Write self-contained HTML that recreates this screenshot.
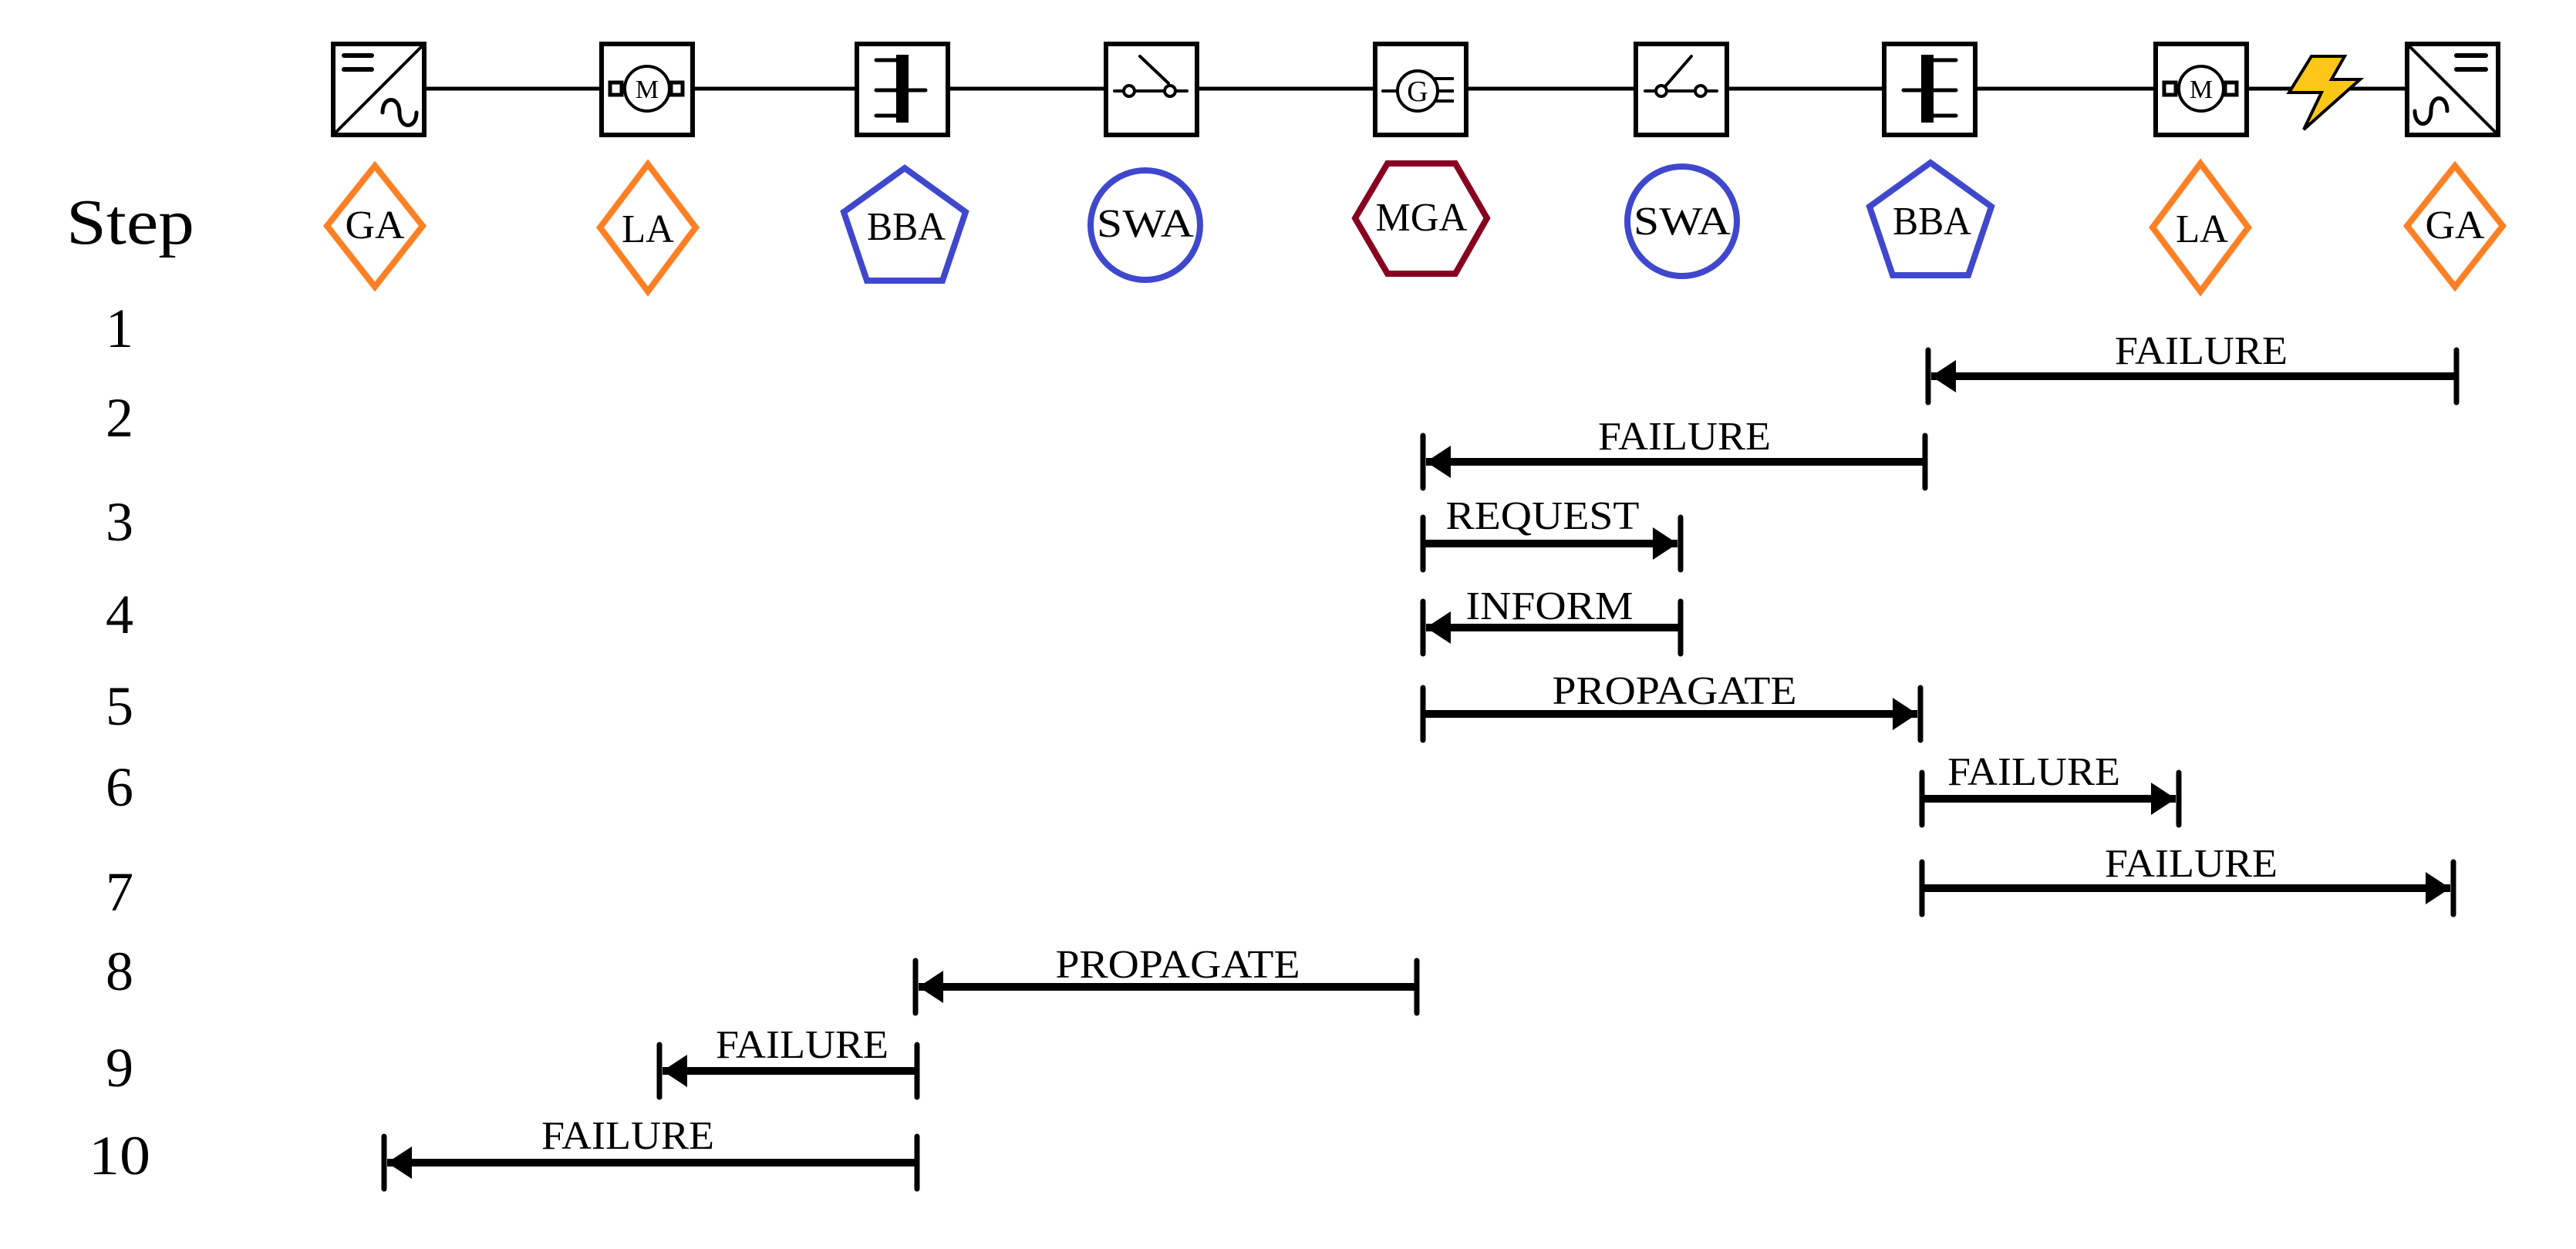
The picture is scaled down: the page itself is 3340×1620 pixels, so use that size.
<!DOCTYPE html>
<html><head><meta charset="utf-8"><style>
html,body{margin:0;padding:0;background:#fff;}
svg{display:block;}
text{font-family:"Liberation Serif",serif;fill:#000;}
</style></head><body>
<svg width="3340" height="1620" viewBox="0 0 3340 1620" xmlns="http://www.w3.org/2000/svg">
<defs>
<marker id="ah" viewBox="0 0 10 10" refX="10" refY="5" markerWidth="3.2" markerHeight="4.2" orient="auto-start-reverse" markerUnits="strokeWidth" preserveAspectRatio="none"><path d="M0,0 L10,5 L0,10 z" fill="#000"/></marker>
</defs>
<line x1="490" y1="115" x2="3180" y2="115" stroke="#000" stroke-width="5"/>
<g fill="#fff" stroke="#000" stroke-width="6">
<rect x="432" y="57" width="118" height="118"/>
<rect x="780" y="57" width="118" height="118"/>
<rect x="1111" y="57" width="118" height="118"/>
<rect x="1434" y="57" width="118" height="118"/>
<rect x="1783" y="57" width="118" height="118"/>
<rect x="2121" y="57" width="118" height="118"/>
<rect x="2443" y="57" width="118" height="118"/>
<rect x="2795" y="57" width="118" height="118"/>
<rect x="3121" y="57" width="118" height="118"/>
</g>
<g stroke="#000" stroke-width="4" fill="none" stroke-linecap="round">
<line x1="432" y1="175" x2="550" y2="57"/>
<line x1="446" y1="72" x2="482" y2="72" stroke-width="6"/>
<line x1="446" y1="90" x2="482" y2="90" stroke-width="6"/>
<path d="M496,146 C496,124 518,124 518,146 C518,168 540,168 540,146" stroke-width="5"/>
<line x1="3121" y1="57" x2="3239" y2="175"/>
<line x1="3185" y1="72" x2="3223" y2="72" stroke-width="6"/>
<line x1="3185" y1="90" x2="3223" y2="90" stroke-width="6"/>
<path d="M3131,144 C3131,166 3152,166 3152,144 C3152,122 3173,122 3173,144" stroke-width="5"/>
<circle cx="839" cy="115" r="29" fill="#fff"/>
<rect x="791" y="107" width="15" height="16" fill="#fff" stroke-width="5"/>
<rect x="870" y="107" width="15" height="16" fill="#fff" stroke-width="5"/>
<circle cx="2854" cy="115" r="29" fill="#fff"/>
<rect x="2806" y="107" width="15" height="16" fill="#fff" stroke-width="5"/>
<rect x="2885" y="107" width="15" height="16" fill="#fff" stroke-width="5"/>
<line x1="1136" y1="78" x2="1165" y2="78" stroke-width="5"/>
<line x1="1136" y1="117" x2="1200" y2="117" stroke-width="5"/>
<line x1="1136" y1="150" x2="1165" y2="150" stroke-width="5"/>
<line x1="2500" y1="78" x2="2536" y2="78" stroke-width="5"/>
<line x1="2468" y1="117" x2="2536" y2="117" stroke-width="5"/>
<line x1="2500" y1="150" x2="2536" y2="150" stroke-width="5"/>
<line x1="1445" y1="118" x2="1539" y2="118" stroke-width="4"/>
<line x1="1478" y1="73" x2="1515" y2="108" stroke-width="4"/>
<circle cx="1464" cy="118" r="7" fill="#fff" stroke-width="4"/>
<circle cx="1517" cy="118" r="7" fill="#fff" stroke-width="4"/>
<line x1="2133" y1="118" x2="2226" y2="118" stroke-width="4"/>
<line x1="2160" y1="111" x2="2193" y2="73" stroke-width="4"/>
<circle cx="2154" cy="118" r="7" fill="#fff" stroke-width="4"/>
<circle cx="2205" cy="118" r="7" fill="#fff" stroke-width="4"/>
<line x1="1793" y1="118" x2="1812" y2="118"/>
<line x1="1860" y1="102" x2="1885" y2="102" stroke-linecap="butt"/>
<line x1="1860" y1="118" x2="1885" y2="118" stroke-linecap="butt"/>
<line x1="1860" y1="131" x2="1885" y2="131" stroke-linecap="butt"/>
<circle cx="1838" cy="118" r="26" fill="#fff"/>
</g>
<rect x="1162" y="71" width="16" height="88" fill="#000"/>
<rect x="2491" y="71" width="16" height="88" fill="#000"/>
<text x="839" y="127" font-size="34" text-anchor="middle">M</text>
<text x="2854" y="127" font-size="34" text-anchor="middle">M</text>
<text x="1838" y="131" font-size="38" text-anchor="middle">G</text>
<polygon points="2997,73 3040,73 3023,103 3060,103 2987,168 3010,120 2968,120" fill="#FFC61A" stroke="#000" stroke-width="4"/>

<g fill="none" stroke-width="8">
<polygon points="486,215 548,293 486,372 424,293" stroke="#FF8024"/>
<polygon points="840,213 902,295 840,378 778,295" stroke="#FF8024"/>
<polygon points="1173,218 1252,275 1222,364 1124,364 1094,275" stroke="#3F48CC"/>
<circle cx="1485" cy="292" r="71" stroke="#3F48CC"/>
<polygon points="1757,283 1799,212 1887,212 1928,283 1887,355 1799,355" stroke="#880020"/>
<circle cx="2181" cy="287" r="71" stroke="#3F48CC"/>
<polygon points="2503,211 2582,268 2552,357 2454,357 2424,268" stroke="#3F48CC"/>
<polygon points="2853,212 2915,295 2853,378 2791,295" stroke="#FF8024"/>
<polygon points="3183,215 3245,293 3183,372 3121,293" stroke="#FF8024"/>
</g>
<g font-size="52" text-anchor="middle" lengthAdjust="spacingAndGlyphs">
<text x="486" y="309" textLength="77" lengthAdjust="spacingAndGlyphs">GA</text>
<text x="840" y="314" textLength="68" lengthAdjust="spacingAndGlyphs">LA</text>
<text x="1175" y="311" textLength="102" lengthAdjust="spacingAndGlyphs">BBA</text>
<text x="1485" y="307" textLength="126" lengthAdjust="spacingAndGlyphs">SWA</text>
<text x="1843" y="299" textLength="119" lengthAdjust="spacingAndGlyphs">MGA</text>
<text x="2181" y="304" textLength="126" lengthAdjust="spacingAndGlyphs">SWA</text>
<text x="2505" y="304" textLength="102" lengthAdjust="spacingAndGlyphs">BBA</text>
<text x="2855" y="314" textLength="68" lengthAdjust="spacingAndGlyphs">LA</text>
<text x="3183" y="309" textLength="77" lengthAdjust="spacingAndGlyphs">GA</text>
</g>
<text x="86" y="316" font-size="84" textLength="166" lengthAdjust="spacingAndGlyphs">Step</text>
<g font-size="72" text-anchor="middle">
<text x="155" y="450">1</text>
<text x="155" y="566">2</text>
<text x="155" y="701">3</text>
<text x="155" y="821">4</text>
<text x="155" y="940">5</text>
<text x="155" y="1045">6</text>
<text x="155" y="1181">7</text>
<text x="155" y="1284">8</text>
<text x="155" y="1409">9</text>
<text x="155" y="1523" textLength="80" lengthAdjust="spacingAndGlyphs">10</text>
</g>

<g stroke="#000" stroke-width="10" stroke-linecap="butt">
<line x1="3185" y1="488" x2="2504" y2="488" marker-end="url(#ah)"/>
<line x1="2496" y1="599" x2="1849" y2="599" marker-end="url(#ah)"/>
<line x1="1845" y1="705" x2="2175" y2="705" marker-end="url(#ah)"/>
<line x1="2179" y1="814" x2="1849" y2="814" marker-end="url(#ah)"/>
<line x1="1845" y1="926" x2="2486" y2="926" marker-end="url(#ah)"/>
<line x1="2492" y1="1036" x2="2821" y2="1036" marker-end="url(#ah)"/>
<line x1="2492" y1="1152" x2="3177" y2="1152" marker-end="url(#ah)"/>
<line x1="1837" y1="1280" x2="1191" y2="1280" marker-end="url(#ah)"/>
<line x1="1189" y1="1389" x2="859" y2="1389" marker-end="url(#ah)"/>
<line x1="1189" y1="1508" x2="502" y2="1508" marker-end="url(#ah)"/>
</g>
<g stroke="#000" stroke-width="7" stroke-linecap="round">
<line x1="2500" y1="454" x2="2500" y2="522"/><line x1="3185" y1="454" x2="3185" y2="522"/>
<line x1="1845" y1="565" x2="1845" y2="633"/><line x1="2496" y1="565" x2="2496" y2="633"/>
<line x1="1845" y1="671" x2="1845" y2="739"/><line x1="2179" y1="671" x2="2179" y2="739"/>
<line x1="1845" y1="780" x2="1845" y2="848"/><line x1="2179" y1="780" x2="2179" y2="848"/>
<line x1="1845" y1="892" x2="1845" y2="960"/><line x1="2490" y1="892" x2="2490" y2="960"/>
<line x1="2492" y1="1002" x2="2492" y2="1070"/><line x1="2825" y1="1002" x2="2825" y2="1070"/>
<line x1="2492" y1="1118" x2="2492" y2="1186"/><line x1="3181" y1="1118" x2="3181" y2="1186"/>
<line x1="1187" y1="1246" x2="1187" y2="1314"/><line x1="1837" y1="1246" x2="1837" y2="1314"/>
<line x1="855" y1="1355" x2="855" y2="1423"/><line x1="1189" y1="1355" x2="1189" y2="1423"/>
<line x1="498" y1="1474" x2="498" y2="1542"/><line x1="1189" y1="1474" x2="1189" y2="1542"/>
</g>
<g font-size="52" text-anchor="middle">
<text x="2854" y="472" textLength="224" lengthAdjust="spacingAndGlyphs">FAILURE</text>
<text x="2184" y="583" textLength="224" lengthAdjust="spacingAndGlyphs">FAILURE</text>
<text x="2000" y="686" textLength="251" lengthAdjust="spacingAndGlyphs">REQUEST</text>
<text x="2009" y="803" textLength="217" lengthAdjust="spacingAndGlyphs">INFORM</text>
<text x="2171" y="913" textLength="317" lengthAdjust="spacingAndGlyphs">PROPAGATE</text>
<text x="2637" y="1018" textLength="224" lengthAdjust="spacingAndGlyphs">FAILURE</text>
<text x="2841" y="1137" textLength="224" lengthAdjust="spacingAndGlyphs">FAILURE</text>
<text x="1527" y="1268" textLength="317" lengthAdjust="spacingAndGlyphs">PROPAGATE</text>
<text x="1040" y="1372" textLength="224" lengthAdjust="spacingAndGlyphs">FAILURE</text>
<text x="814" y="1490" textLength="224" lengthAdjust="spacingAndGlyphs">FAILURE</text>
</g>
</svg>
</body></html>
